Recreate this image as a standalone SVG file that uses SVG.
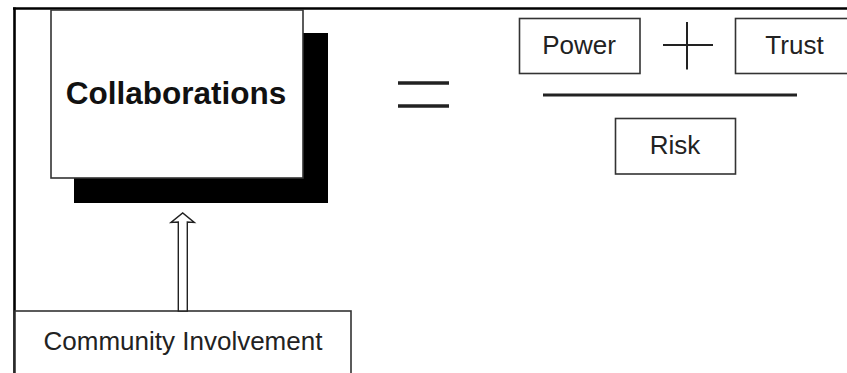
<svg xmlns="http://www.w3.org/2000/svg" width="847" height="373" viewBox="0 0 847 373">
  <style>
    .box { fill: #ffffff; stroke: #333333; stroke-width: 1.6; }
    .lbl { font-family: "Liberation Sans", Arial, sans-serif; font-size: 26px; fill: #222222; text-anchor: middle; }
    .title { font-family: "Liberation Sans", Arial, sans-serif; font-size: 31.5px; font-weight: bold; fill: #111111; text-anchor: middle; }
    .op { stroke: #222222; fill: none; }
  </style>
  <rect x="0" y="0" width="847" height="373" fill="#ffffff"/>
  <g id="frame">
    <line x1="13" y1="8.5" x2="847" y2="8.5" stroke="#000000" stroke-width="2.6"/>
    <line x1="14.5" y1="7.5" x2="14.5" y2="373" stroke="#000000" stroke-width="2.6"/>
  </g>
  <g id="collaborations">
    <rect x="74" y="33" width="254" height="170" fill="#000000"/>
    <rect class="box" x="51" y="10" width="252" height="168"/>
    <text class="title" x="176" y="104">Collaborations</text>
  </g>
  <g id="community">
    <rect class="box" x="15" y="311" width="336" height="70"/>
    <text class="lbl" x="183" y="350">Community Involvement</text>
  </g>
  <g id="connectors">
    <polygon points="178.3,311 178.3,222 171,222.5 182.7,213 194.3,222.5 187.3,222 187.3,311" fill="#ffffff" stroke="#222222" stroke-width="1.4" stroke-linejoin="miter"/>
  </g>
  <g id="equals">
    <line class="op" x1="398" y1="83" x2="449" y2="83" stroke-width="3.5"/>
    <line class="op" x1="398" y1="106" x2="449" y2="106" stroke-width="3.5"/>
  </g>
  <g id="power">
    <rect class="box" x="519.5" y="18.5" width="120.5" height="55"/>
    <text class="lbl" x="579" y="53.5">Power</text>
  </g>
  <g id="plus">
    <line class="op" x1="663" y1="45" x2="713" y2="45" stroke-width="2"/>
    <line class="op" x1="687" y1="22" x2="687" y2="69.5" stroke-width="2"/>
  </g>
  <g id="trust">
    <rect class="box" x="735.5" y="18.5" width="120" height="55"/>
    <text class="lbl" x="794.5" y="53.5">Trust</text>
  </g>
  <g id="fraction">
    <line class="op" x1="543" y1="95" x2="797" y2="95" stroke-width="3.2"/>
  </g>
  <g id="risk">
    <rect class="box" x="615.5" y="118.5" width="120" height="55.5"/>
    <text class="lbl" x="675" y="153.5">Risk</text>
  </g>
</svg>
